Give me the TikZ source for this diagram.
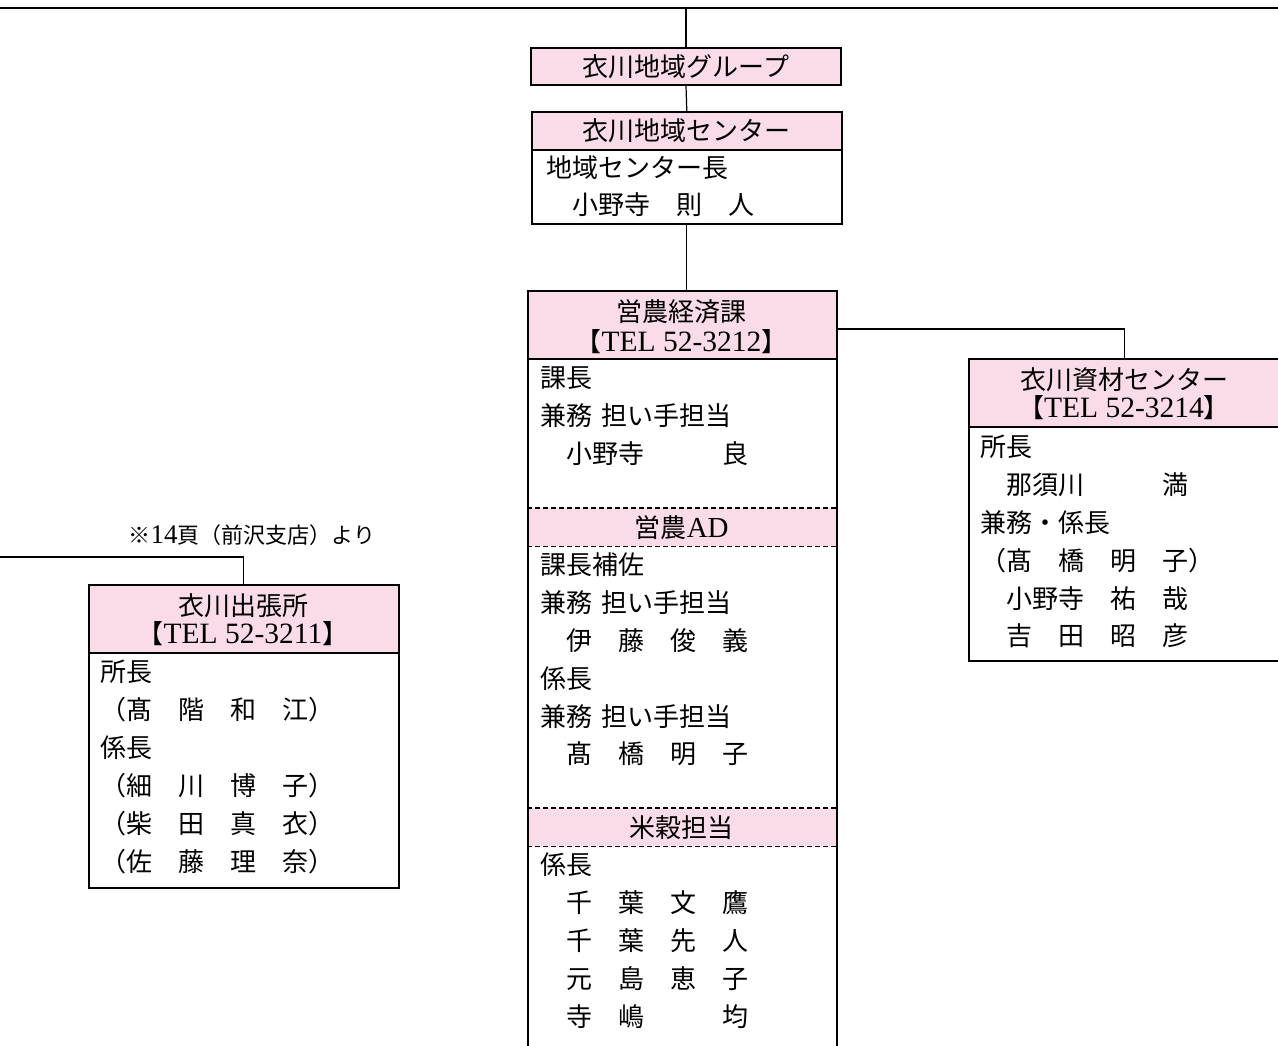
\documentclass[tikz,border=0pt]{standalone}
\usepackage{fontspec}
\setmainfont{Noto Sans CJK JP}
\newfontfamily\latf{Liberation Serif}
\newcommand{\tel}[1]{{\latf\fontsize{29.5}{32}\selectfont #1}}
\definecolor{pk}{RGB}{250,220,232}
\tikzset{
  box/.style={draw=black, line width=1.6pt, rectangle, inner sep=0pt},
  title/.style={box, fill=pk, text height=22.9pt, text depth=3.1pt, font=\fontsize{26}{30}\selectfont},
  band/.style={fill=pk, rectangle, inner sep=0pt, minimum width=309pt, minimum height=38pt, anchor=north west},
  txt/.style={inner sep=0pt, text height=22.9pt, text depth=3.1pt, font=\fontsize{26}{30}\selectfont},
  tline/.style={inner sep=0pt, text height=20pt, text depth=0.2pt, font=\fontsize{26}{30}\selectfont},
  conn/.style={line width=1.2pt},
  dsh/.style={line width=1.3pt, dash pattern=on 5pt off 3pt},
}
\begin{document}
\begin{tikzpicture}[x=1pt,y=-1pt]
\useasboundingbox (0,0) rectangle (1278,1046);
\clip (0,0) rectangle (1278,1046);

% top line
\coordinate (topL) at (0,8);
\coordinate (topR) at (1278,8);
\coordinate (top) at (686,8);
\draw[line width=1.6pt] (topL) -- (topR);

% group
\node[title, minimum width=310pt, minimum height=37pt] (grp) at (686,66.5) {衣川地域グループ};

% center
\node[box, minimum width=310pt, minimum height=112pt, anchor=north west] (ctrB) at (531,111) {};
\node[title, minimum width=310pt, minimum height=38pt, anchor=north west] (ctrT) at (531,111) {衣川地域センター};
\node[txt, anchor=west] (c1) at (546,168) {地域センター長};
\node[txt, anchor=west] (c2) at (546,205) {　小野寺　則　人};

% main section
\node[band] (b1) at (527,508) {};
\node[band] (b2) at (527,808) {};
\node[box, minimum width=309pt, minimum height=780pt, anchor=north west] (ecoB) at (527,290) {};
\node[title, minimum width=309pt, minimum height=68pt, anchor=north west] (ecoT) at (527,290) {};
\node[tline] (ecoT1) at (681.5,312) {営農経済課};
\node[tline] (ecoT2) at (681.5,342) {【\tel{TEL 52-3212}】};
\draw[dsh] (b1.north west) -- (b1.north east);
\draw[dsh] (b1.south west) -- (b1.south east);
\draw[dsh] (b2.north west) -- (b2.north east);
\draw[dsh] (b2.south west) -- (b2.south east);
\node[txt] (b1t) at (b1) {営農{\latf\fontsize{29}{32}\selectfont AD}};
\node[txt] (b2t) at (b2) {米穀担当};
\foreach \t [count=\i from 0] in {課長,兼務\hspace{0.35em}担い手担当,　小野寺　　　良}
  \node[txt, anchor=west] (ea\i) at (540,378+37.6*\i) {\t};
\foreach \t [count=\i from 0] in {課長補佐,兼務\hspace{0.35em}担い手担当,　伊　藤　俊　義,係長,兼務\hspace{0.35em}担い手担当,　髙　橋　明　子}
  \node[txt, anchor=west] (eb\i) at (540,565+37.8*\i) {\t};
\foreach \t [count=\i from 0] in {係長,　千　葉　文　鷹,　千　葉　先　人,　元　島　恵　子,　寺　嶋　　　均}
  \node[txt, anchor=west] (ec\i) at (540,865+37.9*\i) {\t};

% materials center
\node[box, minimum width=312pt, minimum height=302pt, anchor=north west] (matB) at (968,358) {};
\node[title, minimum width=312pt, minimum height=68pt, anchor=north west] (matT) at (968,358) {};
\node[tline] (matT1) at (1124,380) {衣川資材センター};
\node[tline] (matT2) at (1124,408) {【\tel{TEL 52-3214}】};
\foreach \t [count=\i from 0] in {所長,　那須川　　　満,兼務・係長,（髙　橋　明　子）,　小野寺　祐　哉,　吉　田　昭　彦}
  \node[txt, anchor=west] (m\i) at (980,447+37.8*\i) {\t};

% branch office
\node[box, minimum width=310pt, minimum height=303pt, anchor=north west] (outB) at (88,584) {};
\node[title, minimum width=310pt, minimum height=68pt, anchor=north west] (outT) at (88,584) {};
\node[tline] (outT1) at (243,606) {衣川出張所};
\node[tline] (outT2) at (243,634) {【\tel{TEL 52-3211}】};
\foreach \t [count=\i from 0] in {所長,（髙　階　和　江）,係長,（細　川　博　子）,（柴　田　真　衣）,（佐　藤　理　奈）}
  \node[txt, anchor=west] (o\i) at (100,672+38*\i) {\t};
\node[inner sep=0pt, text height=19.4pt, text depth=2.6pt, font=\fontsize{22}{25}\selectfont] (note) at (252,535) {※{\latf\fontsize{27}{29}\selectfont 14}頁（前沢支店）より};

% connectors
\coordinate (ecoR) at (836,329);
\coordinate (lft) at (0,557);
\draw[conn] (top) -- (grp.north);
\draw[conn] (grp.south) -- (ctrT.north);
\draw[conn] (ctrB.south) -- (ctrB.south |- ecoT.north);
\draw[conn] (ecoR) -| (matT.north);
\draw[conn] (lft) -| (outT.north);
\end{tikzpicture}
\end{document}
